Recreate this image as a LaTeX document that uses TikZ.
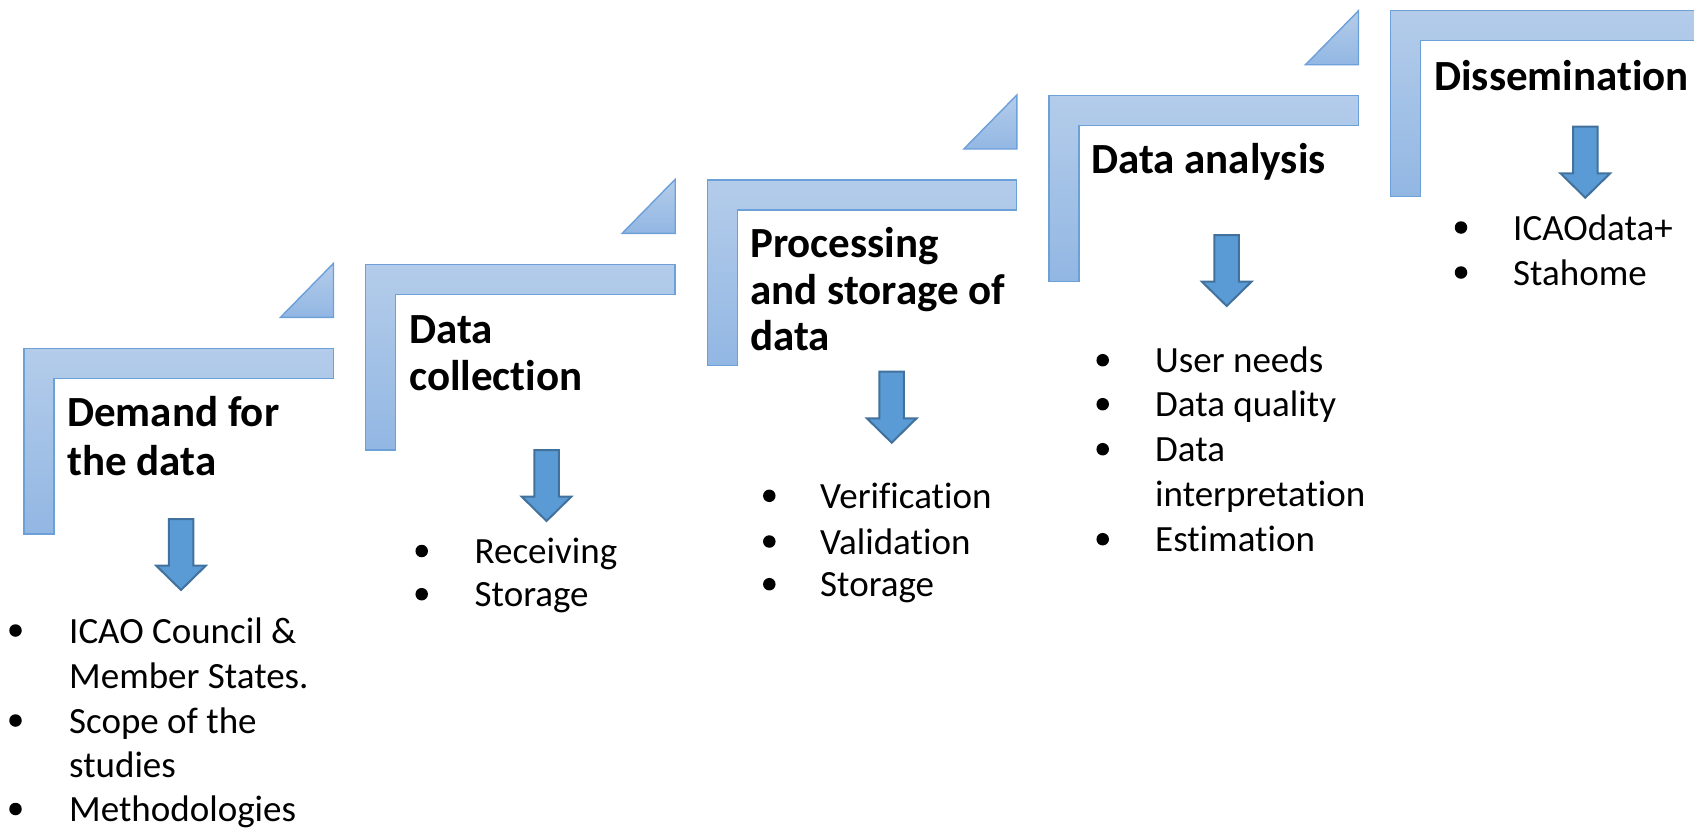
\documentclass[tikz,border=0pt]{standalone}
\usepackage{fontspec}
\setmainfont{Carlito}[Ligatures=NoCommon]
\definecolor{stepTop}{RGB}{180,204,234}
\definecolor{stepBot}{RGB}{146,183,227}
\definecolor{stepLine}{RGB}{108,160,217}
\definecolor{arrFill}{RGB}{91,155,213}
\definecolor{arrLine}{RGB}{65,113,156}
\begin{document}
\begin{tikzpicture}[x=1pt,y=-1pt,
  stepshape/.style={draw=stepLine, line width=1.4pt, top color=stepTop, bottom color=stepBot},
  downarrow/.style={draw=arrLine, line width=2pt, fill=arrFill, line join=miter},
  title/.style={anchor=base west, inner sep=0pt, font=\fontsize{43}{48}\selectfont\bfseries},
  item/.style={anchor=base west, inner sep=0pt, font=\fontsize{37}{44}\selectfont},
  dot/.style={circle, fill=black, inner sep=0pt, minimum size=12.5pt}]
\path[use as bounding box] (0,0) rectangle (1694,828);
\begin{scope}
\clip (0,0) rectangle (1694,828);
% step shapes
\foreach \L/\T in {24/348.3, 365.7/264.3, 707.3/180, 1049/95.7, 1390.7/10.7}{
  \path[stepshape] (\L,\T) -- ++(309.3,0) -- ++(0,30) -- ++(-279.3,0) -- ++(0,155.5) -- ++(-30,0) -- cycle;
  \path[stepshape] (\L+309.5,\T-85) -- (\L+309.5,\T-31) -- (\L+256.5,\T-31) -- cycle;
}
% down arrows
\foreach \cx/\ty in {181/519, 546.5/450, 891.7/371.7, 1226.7/235, 1585.3/126.7}{
  \path[downarrow] (\cx-12.25,\ty) -- (\cx+12.25,\ty) -- (\cx+12.25,\ty+46.7) -- (\cx+24.75,\ty+46.7)
    -- (\cx,\ty+71) -- (\cx-24.75,\ty+46.7) -- (\cx-12.25,\ty+46.7) -- cycle;
}
% titles
\node[title] (t1a) at (67,426.7) {Demand for};
\node[title] (t1b) at (67,475) {the data};
\node[title] (t2a) at (409,343.3) {Data};
\node[title] (t2b) at (409,390) {collection};
\node[title] (t3a) at (750,257) {Processing};
\node[title] (t3b) at (750,304) {and storage of};
\node[title] (t3c) at (750,350) {data};
\node[title] (t4) at (1091,173.5) {Data analysis};
\node[title] (t5) at (1434,90) {Dissemination};
% step 1 items
\node[dot] (d1a) at (15.5,630.5) {};
\node[item] (i1a) at (69,643.3) {ICAO Council \&};
\node[item] (i1b) at (69,688.3) {Member States.};
\node[dot] (d1b) at (15.5,720.5) {};
\node[item] (i1c) at (69,733.3) {Scope of the};
\node[item] (i1d) at (69,777) {studies};
\node[dot] (d1c) at (15.5,809) {};
\node[item] (i1e) at (69,821.7) {Methodologies};
% step 2 items
\node[dot] (d2a) at (421.7,551) {};
\node[item] (i2a) at (474.5,563.3) {Receiving};
\node[dot] (d2b) at (421.7,594.2) {};
\node[item] (i2b) at (474.5,606.7) {Storage};
% step 3 items
\node[dot] (d3a) at (769.3,495.8) {};
\node[item] (i3a) at (820,508.3) {Verification};
\node[dot] (d3b) at (769.3,541.5) {};
\node[item] (i3b) at (820,554) {Validation};
\node[dot] (d3c) at (769.3,584.2) {};
\node[item] (i3c) at (820,596.7) {Storage};
% step 4 items
\node[dot] (d4a) at (1102.7,360.2) {};
\node[item] (i4a) at (1155,372.7) {User needs};
\node[dot] (d4b) at (1102.7,404.2) {};
\node[item] (i4b) at (1155,416.7) {Data quality};
\node[dot] (d4c) at (1102.7,449.2) {};
\node[item] (i4c) at (1155,461.7) {Data};
\node[item] (i4d) at (1155,506.7) {interpretation};
\node[dot] (d4d) at (1102.7,539.2) {};
\node[item] (i4e) at (1155,551.7) {Estimation};
% step 5 items
\node[dot] (d5a) at (1461,227.5) {};
\node[item] (i5a) at (1513,240) {ICAOdata+};
\node[dot] (d5b) at (1461,272.5) {};
\node[item] (i5b) at (1513,285) {Stahome};
\end{scope}
\end{tikzpicture}
\end{document}
